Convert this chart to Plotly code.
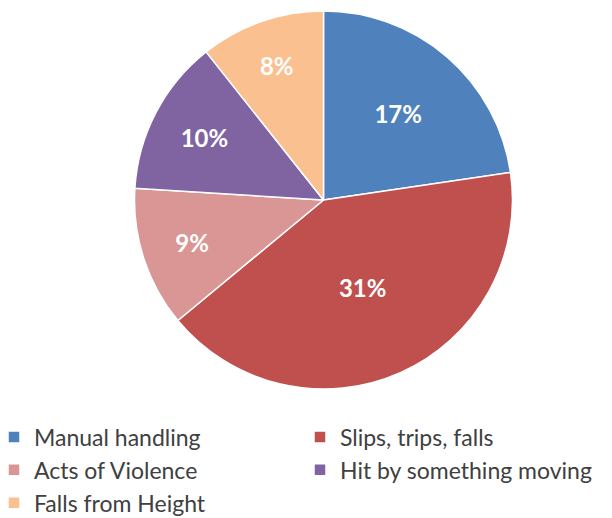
import plotly.graph_objects as go

categories = ["Manual handling", "Slips, trips, falls", "Acts of Violence",
              "Hit by something moving", "Falls from Height"]
values = [17, 31, 9, 10, 8]
colors = ["#4F81BD", "#C0504D", "#D99694", "#8064A2", "#FAC090"]

W, H = 612, 518
cx, cy, r = 323.5, 200, 189

fig = go.Figure(go.Pie(
    labels=categories,
    values=values,
    sort=False,
    direction="clockwise",
    rotation=0,
    marker=dict(colors=colors, line=dict(color="white", width=1.5)),
    texttemplate="%{value}%",
    textposition="inside",
    insidetextorientation="horizontal",
    textfont=dict(family="Lato", size=24, color="white", weight="bold"),
    hoverinfo="label+value",
    domain=dict(x=[(cx - r) / W, (cx + r) / W], y=[1 - (cy + r) / H, 1 - (cy - r) / H]),
))

fig.update_layout(
    width=W, height=H,
    margin=dict(l=0, r=0, t=0, b=0, autoexpand=False),
    paper_bgcolor="white",
    plot_bgcolor="white",
    showlegend=True,
    legend=dict(
        orientation="h",
        x=2 / W, xanchor="left",
        y=-6.5 / H, yanchor="bottom",
        entrywidth=269, entrywidthmode="pixels",
        indentation=-8,
        font=dict(family="Lato", size=23, color="#404040"),
        bgcolor="rgba(0,0,0,0)",
        traceorder="normal",
    ),
)

fig.write_html("out.html")
